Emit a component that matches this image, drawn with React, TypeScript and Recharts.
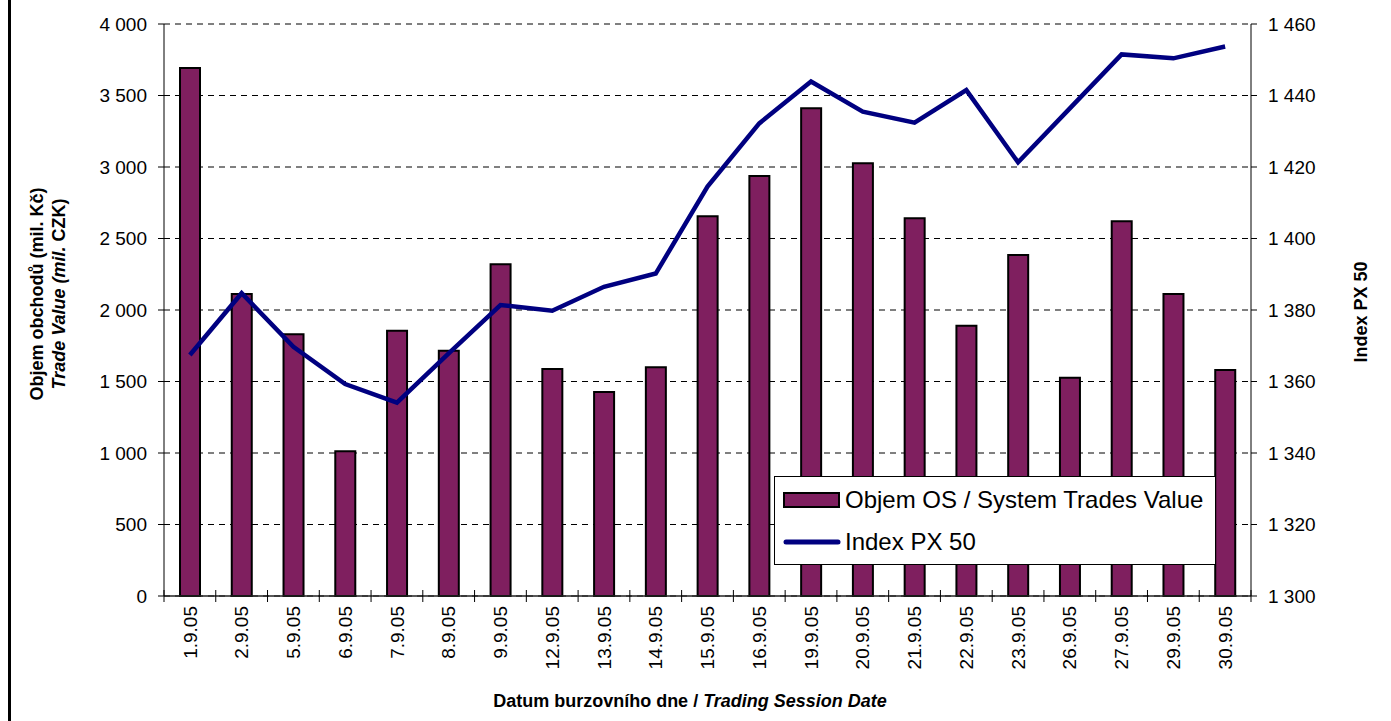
import {
  ComposedChart, Bar, Line, XAxis, YAxis, CartesianGrid, Legend, Label,
} from 'recharts'

const dates = [
  '1.9.05', '2.9.05', '5.9.05', '6.9.05', '7.9.05', '8.9.05', '9.9.05',
  '12.9.05', '13.9.05', '14.9.05', '15.9.05', '16.9.05', '19.9.05', '20.9.05',
  '21.9.05', '22.9.05', '23.9.05', '26.9.05', '27.9.05', '29.9.05', '30.9.05',
]
const tradeValue = [
  3692, 2112, 1830, 1012, 1855, 1715, 2320, 1587, 1427, 1599, 2655,
  2937, 3410, 3026, 2641, 1890, 2385, 1527, 2620, 2112, 1580,
]
const px50 = [
  1367.4, 1384.7, 1369.7, 1359.3, 1354.1, 1367.9, 1381.4, 1379.8, 1386.5, 1390.2, 1414.5,
  1432.2, 1443.9, 1435.5, 1432.4, 1441.5, 1421.3, 1436.4, 1451.5, 1450.4, 1453.7,
]
const leftTicks = [0, 500, 1000, 1500, 2000, 2500, 3000, 3500, 4000]
const rightTicks = [1300, 1320, 1340, 1360, 1380, 1400, 1420, 1440, 1460]

const data = dates.map((d, i) => ({ date: d, value: tradeValue[i], px: px50[i] }))

const FONT = '"Liberation Sans", Arial, sans-serif'
const W = 1391
const H = 721
const LEFT_W = 164
const RIGHT_W = 140
const BAND = (W - LEFT_W - RIGHT_W) / dates.length

const BAR_FILL = '#7f1f5f'
const LINE_COLOR = '#000080'

const fmt = (v: number) => String(v).replace(/\B(?=(\d{3})+(?!\d))/g, ' ')

function DateTick(props: any) {
  const { x, y, payload, index } = props
  return (
    <g>
      <line x1={x - BAND / 2} x2={x - BAND / 2} y1={y - 6} y2={y + 6} stroke="#000" />
      {index === dates.length - 1 && (
        <line x1={x + BAND / 2} x2={x + BAND / 2} y1={y - 6} y2={y + 6} stroke="#000" />
      )}
      <text
        transform={`translate(${x},${y + 10}) rotate(-90)`}
        textAnchor="end"
        dy="0.35em"
        fontSize={19}
        fontFamily={FONT}
        fill="#000"
      >
        {payload.value}
      </text>
    </g>
  )
}

function LegendBox({ payload }: any) {
  // bars first, then the line, as in the original legend
  const items = [...(payload || [])].sort((a: any, b: any) =>
    (a.type === 'line' ? 1 : 0) - (b.type === 'line' ? 1 : 0))
  return (
    <div style={{
      boxSizing: 'border-box', width: 442, height: 89, border: '1px solid #000',
      background: '#fff', position: 'relative', fontFamily: FONT, fontSize: 24, color: '#000',
    }}>
      {items.map((p: any, i: number) => (
        <div key={i} style={{
          position: 'absolute', left: 8, top: 6 + i * 42, height: 34,
          display: 'flex', alignItems: 'center', whiteSpace: 'nowrap',
        }}>
          <svg width={58} height={20}>
            {p.type === 'line'
              ? <line x1={3} x2={55} y1={10} y2={10} stroke={p.color} strokeWidth={5} strokeLinecap="round" />
              : <rect x={1} y={3} width={55} height={14} fill={p.color} stroke="#000" strokeWidth={2} />}
          </svg>
          <span style={{ marginLeft: 4 }}>{p.value}</span>
        </div>
      ))}
    </div>
  )
}

export default function App() {
  return (
    <div style={{ position: 'absolute', left: 0, top: 0, width: W, height: H, background: '#fff' }}>
      <div style={{ position: 'absolute', left: 8, top: 0, width: 3, height: H, background: '#000' }} />
      <ComposedChart
        width={W}
        height={H}
        data={data}
        margin={{ top: 24, right: 0, bottom: 0, left: 0 }}
      >
        <CartesianGrid vertical={false} yAxisId="left" stroke="#000" strokeDasharray="6 5" />
        <XAxis
          dataKey="date"
          height={H - 596}
          interval={0}
          tickLine={false}
          tickSize={0}
          tickMargin={0}
          axisLine={{ stroke: '#222', strokeWidth: 1.5 }}
          tick={<DateTick />}
        >
          <Label
            content={() => (
              <text x={690} y={707} textAnchor="middle" fontSize={18} fontWeight="bold" fontFamily={FONT} fill="#000">
                Datum burzovního dne / <tspan fontStyle="italic">Trading Session Date</tspan>
              </text>
            )}
          />
        </XAxis>
        <YAxis
          yAxisId="left"
          width={LEFT_W}
          domain={[0, 4000]}
          ticks={leftTicks}
          interval={0}
          tickFormatter={fmt}
          tickSize={6}
          tickMargin={11}
          axisLine={{ stroke: '#000' }}
          tickLine={{ stroke: '#000' }}
          tick={{ fill: '#000', fontSize: 19, fontFamily: FONT }}
        >
          <Label
            content={() => (
              <g>
                <text transform="translate(43,294) rotate(-90)" textAnchor="middle" fontSize={18} fontWeight="bold" fontFamily={FONT} fill="#000">
                  Objem obchodů (mil. Kč)
                </text>
                <text transform="translate(65,294) rotate(-90)" textAnchor="middle" fontSize={18} fontWeight="bold" fontFamily={FONT} fill="#000">
                  <tspan fontStyle="italic">Trade Value (mil.</tspan> CZK)
                </text>
              </g>
            )}
          />
        </YAxis>
        <YAxis
          yAxisId="right"
          orientation="right"
          width={RIGHT_W}
          domain={[1300, 1460]}
          ticks={rightTicks}
          interval={0}
          tickFormatter={fmt}
          tickSize={6}
          tickMargin={11}
          axisLine={{ stroke: '#000' }}
          tickLine={{ stroke: '#000' }}
          tick={{ fill: '#000', fontSize: 19, fontFamily: FONT }}
        >
          <Label
            content={() => (
              <text transform="translate(1367,312) rotate(-90)" textAnchor="middle" fontSize={18} fontWeight="bold" fontFamily={FONT} fill="#000">
                Index PX 50
              </text>
            )}
          />
        </YAxis>
        <Legend
          layout="vertical"
          align="center"
          verticalAlign="middle"
          wrapperStyle={{ left: 774, top: 476, width: 442, height: 89 }}
          content={<LegendBox />}
        />
        <Bar
          yAxisId="left"
          dataKey="value"
          name="Objem OS / System Trades Value"
          fill={BAR_FILL}
          stroke="#000"
          strokeWidth={2}
          barSize={20}
          legendType="rect"
          isAnimationActive={false}
        />
        <Line
          yAxisId="right"
          dataKey="px"
          name="Index PX 50"
          type="linear"
          stroke={LINE_COLOR}
          strokeWidth={4.5}
          dot={false}
          activeDot={false}
          legendType="line"
          isAnimationActive={false}
        />
      </ComposedChart>
    </div>
  )
}
